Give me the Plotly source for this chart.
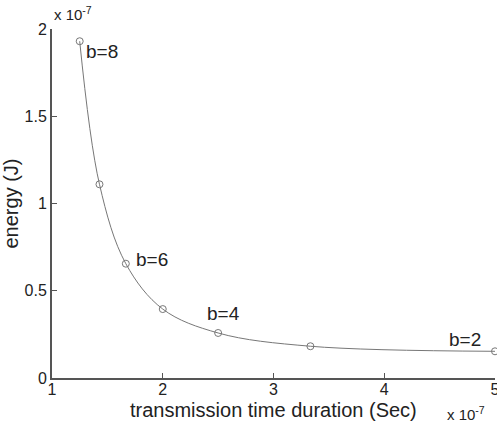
import plotly.graph_objects as go

# Data (x in units of 1e-7 s, energy in units of 1e-7 J)
bits = [8, 7, 6, 5, 4, 3, 2]
duration = [1.25, 1.4286, 1.6667, 2.0, 2.5, 3.3333, 5.0]
energy = [1.93, 1.11, 0.655, 0.395, 0.258, 0.182, 0.153]

label_bits = ["b=8", "b=6", "b=4", "b=2"]
label_x = [1.29, 1.74, 2.38, 4.57]
label_y = [1.87, 0.68, 0.37, 0.22]

x_ticks = [1, 2, 3, 4, 5]
y_ticks = [0, 0.5, 1, 1.5, 2]
y_ticktext = ["0", "0.5", "1", "1.5", "2"]

FONT = "Liberation Sans, Arial, sans-serif"
GRAY = "#777777"
TXT = "#222222"

fig = go.Figure()
fig.add_trace(go.Scatter(
    x=duration, y=energy, mode="lines+markers",
    line=dict(color=GRAY, width=1, shape="spline", smoothing=1.0),
    marker=dict(symbol="circle-open", size=7, color=GRAY, line=dict(width=1, color=GRAY)),
    showlegend=False, cliponaxis=False,
))

for t, x, y in zip(label_bits, label_x, label_y):
    fig.add_annotation(x=x, y=y, text=t, showarrow=False, xanchor="left", yanchor="middle",
                       font=dict(family=FONT, size=19, color=TXT))

# x-axis title placed just under the tick labels
fig.add_annotation(xref="paper", yref="paper", x=0.5, y=0.0, yshift=-19,
                   text="transmission time duration (Sec)", showarrow=False,
                   xanchor="center", yanchor="top",
                   font=dict(family=FONT, size=20, color=TXT))

fig.add_annotation(xref="paper", yref="paper", x=0.0, y=1.0, yshift=4, text="x 10<sup>-7</sup>",
                   showarrow=False, xanchor="left", yanchor="bottom",
                   font=dict(family=FONT, size=15, color=TXT))
fig.add_annotation(xref="paper", yref="paper", x=1.0, y=0.0, yshift=-24, xshift=-8,
                   text="x 10<sup>-7</sup>",
                   showarrow=False, xanchor="right", yanchor="top",
                   font=dict(family=FONT, size=15, color=TXT))

fig.update_layout(
    width=497, height=426,
    margin=dict(l=52, r=2, t=29, b=48),
    paper_bgcolor="white", plot_bgcolor="white",
    font=dict(family=FONT, size=16, color=TXT),
    xaxis=dict(range=[1, 5], tickvals=x_ticks, ticks="inside", ticklen=5,
               tickcolor="#555555", showline=True, linecolor="#555555", linewidth=2,
               showgrid=False, zeroline=False, ticklabeloverflow="allow",
               ticklabelstandoff=-4,
               automargin=False, tickfont=dict(size=16)),
    yaxis=dict(range=[0, 2], tickvals=y_ticks, ticktext=y_ticktext, ticks="inside", ticklen=5,
               tickcolor="#555555", showline=True, linecolor="#555555", linewidth=2,
               showgrid=False, zeroline=False, ticklabeloverflow="allow",
               automargin=False, tickfont=dict(size=16),
               title=dict(text="energy (J)", standoff=6, font=dict(size=20))),
)

fig.write_html("out.html")
